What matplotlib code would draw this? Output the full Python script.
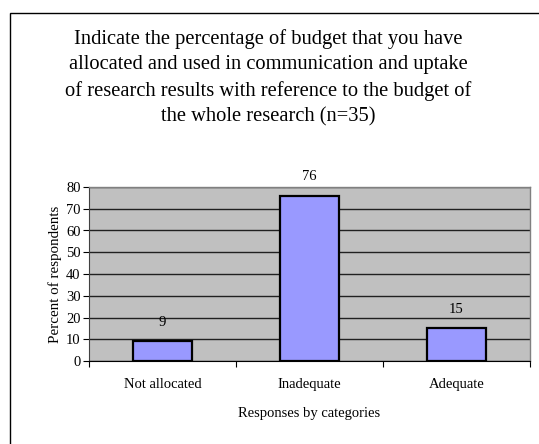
import matplotlib.pyplot as plt
import matplotlib.patches as mpatches

categories = ['Not allocated', 'Inadequate', 'Adequate']
percent = [9, 76, 15]
y_ticks = [0, 10, 20, 30, 40, 50, 60, 70, 80]

title = ('Indicate the percentage of budget that you have\n'
         'allocated and used in communication and uptake\n'
         'of research results with reference to the budget of\n'
         'the whole research (n=35)')

plt.rcParams['font.family'] = 'Liberation Serif'

W, H = 539, 444
fig = plt.figure(figsize=(W / 100, H / 100), dpi=100)
fig.patch.set_facecolor('white')

# outer chart frame (right/bottom edges run off the canvas)
fig.patches.append(mpatches.Rectangle((10 / W, -0.1), 1.2, 1.1 - 13 / H,
                                      transform=fig.transFigure, fill=False,
                                      edgecolor='black', linewidth=1.0))

fig.text(268 / W, 1 - 29 / H, title, ha='center', va='top', fontsize=14.8,
         linespacing=1.44)

ax = fig.add_axes([89 / W, 1 - 361 / H, (530 - 89) / W, (361 - 187) / H])
ax.set_facecolor('#C0C0C0')

x = range(len(categories))
bars = ax.bar(x, percent, width=0.4, color='#9999FF', edgecolor='black',
              linewidth=1.6, zorder=3)
for b, v in zip(bars, percent):
    ax.annotate(str(v), (b.get_x() + b.get_width() / 2, v),
                xytext=(0, 9), textcoords='offset points',
                ha='center', va='bottom', fontsize=10.5)

ax.set_xlim(-0.5, 2.5)
ax.set_ylim(0, 80)
ax.set_yticks(y_ticks)
ax.yaxis.grid(True, color='#202020', linewidth=1.0)
ax.set_axisbelow(True)

# category boundary ticks, labels centred between them
ax.set_xticks([-0.5, 0.5, 1.5, 2.5])
ax.set_xticklabels([])
ax.set_xticks(list(x), minor=True)
ax.set_xticklabels(categories, minor=True, fontsize=10.5)
ax.tick_params(axis='x', which='minor', length=0, pad=12)
ax.tick_params(axis='x', which='major', length=4, direction='out', width=0.8)
ax.tick_params(axis='y', length=4, direction='out', width=0.8, labelsize=10.5,
               pad=2)

for side in ('top', 'right'):
    ax.spines[side].set_color('#808080')
    ax.spines[side].set_linewidth(1.0)
ax.spines['left'].set_color('#404040')
ax.spines['bottom'].set_color('black')

ax.set_ylabel('Percent of respondents', fontsize=10.8, labelpad=3)
ax.set_xlabel('Responses by categories', fontsize=10.5, labelpad=12)

fig.savefig('out.png', dpi=100)
